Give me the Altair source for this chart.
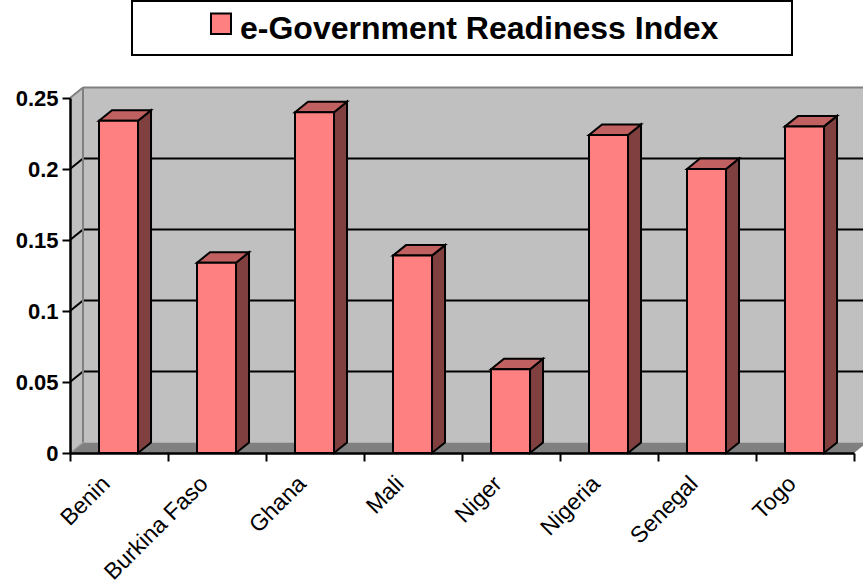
import altair as alt
import pandas as pd

# ---- data ----
countries = ["Benin", "Burkina Faso", "Ghana", "Mali", "Niger", "Nigeria", "Senegal", "Togo"]
values = [0.234, 0.134, 0.240, 0.139, 0.059, 0.224, 0.200, 0.230]
series_name = "e-Government Readiness Index"
y_ticks = [0, 0.05, 0.1, 0.15, 0.2, 0.25]

# ---- layout / 3D geometry ----
W, H = 784, 355
N = len(countries)
YMAX = 0.25
DX = 13 / (W / N)          # depth offset (x units)
DY = 10.5 / (H / YMAX)     # depth offset (y units)
BAR_L, BAR_R = 0.296, 0.694
FONT = "Liberation Sans"

front = pd.DataFrame({
    "country": countries,
    "value": values,
    "xl": [i + BAR_L for i in range(N)],
    "xr": [i + BAR_R for i in range(N)],
    "base": [0.0] * N,
    "series": [series_name] * N,
})

side_rows, top_rows = [], []
for i, (c, v) in enumerate(zip(countries, values)):
    xl, xr = i + BAR_L, i + BAR_R
    side_rows += [
        dict(country=c, x=xr, y=v, y2=0.0),
        dict(country=c, x=xr + DX, y=v + DY, y2=DY),
    ]
    top_rows += [
        dict(country=c, x=xl, y=v, y2=v),
        dict(country=c, x=xl + DX, y=v + DY, y2=v),
        dict(country=c, x=xr, y=v + DY, y2=v),
        dict(country=c, x=xr + DX, y=v + DY, y2=v + DY),
    ]
side = pd.DataFrame(side_rows)
top = pd.DataFrame(top_rows)

xscale = alt.Scale(domain=[0, N], nice=False, zero=False)
yscale = alt.Scale(domain=[0, YMAX], nice=False, zero=False)

labels_js = "[" + ",".join("'" + c + "'" for c in countries) + "]"
xaxis = alt.Axis(
    values=list(range(N + 1)), title=None, grid=False,
    labelExpr=labels_js + "[datum.value] || ''",
    labelAngle=315, labelAlign="right", labelBaseline="top",
    labelOffset=28, labelPadding=11, labelFont=FONT, labelFontSize=23,
    labelColor="black", labelOverlap=False, labelFlush=False, labelBound=False,
    tickSize=8, tickWidth=2, tickColor="black",
    domainColor="black", domainWidth=2.5, zindex=2,
)
yaxis = alt.Axis(
    values=y_ticks, title=None, grid=False, format="~g",
    labelFont=FONT, labelFontSize=22, labelFontWeight="bold", labelColor="black",
    labelPadding=4, tickSize=8, tickWidth=2, tickColor="black",
    domainColor="black", domainWidth=2.5, zindex=2,
)

def X(f):
    return alt.X(f, type="quantitative", scale=xscale, axis=xaxis)

def Y(f):
    return alt.Y(f, type="quantitative", scale=yscale, axis=yaxis, stack=None)

one = pd.DataFrame({"a": [0]})

# legend frame
legend_box = alt.Chart(one).mark_rect(fill="white", stroke="black", strokeWidth=2).encode(
    x=alt.value(62), x2=alt.value(722), y=alt.value(-97), y2=alt.value(-43)
)

# walls and floor
back_wall = alt.Chart(pd.DataFrame({"x": [DX], "x2": [N + DX], "y": [DY], "y2": [YMAX + DY]})).mark_rect(
    fill="#c0c0c0"
).encode(x=X("x"), x2="x2", y=Y("y"), y2="y2")

left_wall = alt.Chart(pd.DataFrame({"x": [0, DX], "y": [YMAX, YMAX + DY], "y2": [0, DY]})).mark_area(
    fill="#c0c0c0"
).encode(x=X("x"), y=Y("y"), y2="y2")

floor = alt.Chart(pd.DataFrame({
    "x": [0, DX, N, N + DX], "y": [0, DY, DY, DY], "y2": [0, 0, 0, DY]
})).mark_area(fill="#808080").encode(x=X("x"), y=Y("y"), y2="y2")

grid_vals = [v for v in y_ticks if 0 < v < YMAX]
back_grid = alt.Chart(pd.DataFrame({
    "x": [DX] * len(grid_vals), "x2": [N + DX] * len(grid_vals), "y": [v + DY for v in grid_vals]
})).mark_rule(color="black", strokeWidth=2).encode(x=X("x"), x2="x2", y=Y("y"))

wall_grid = alt.Chart(pd.DataFrame({
    "x": [0] * len(grid_vals), "x2": [DX] * len(grid_vals),
    "y": grid_vals, "y2": [v + DY for v in grid_vals]
})).mark_rule(color="black", strokeWidth=2).encode(x=X("x"), x2="x2", y=Y("y"), y2="y2")

edges = alt.Chart(pd.DataFrame({
    "x": [0, DX, DX], "x2": [DX, N + DX, DX],
    "y": [YMAX, YMAX + DY, DY], "y2": [YMAX + DY, YMAX + DY, YMAX + DY]
})).mark_rule(color="#808080", strokeWidth=2).encode(x=X("x"), x2="x2", y=Y("y"), y2="y2")

floor_edge = alt.Chart(pd.DataFrame({"x": [0], "x2": [DX], "y": [0], "y2": [DY]})).mark_rule(
    color="#a0a0a0", strokeWidth=1.5
).encode(x=X("x"), x2="x2", y=Y("y"), y2="y2")

# bars
side_faces = alt.Chart(side).mark_area(
    fill="#804040", stroke="black", strokeWidth=2, strokeJoin="miter"
).encode(x=X("x"), y=Y("y"), y2="y2", detail="country:N")

top_faces = alt.Chart(top).mark_area(
    fill="#c06060", stroke="black", strokeWidth=2, strokeJoin="miter"
).encode(x=X("x"), y=Y("y"), y2="y2", detail="country:N")

front_faces = alt.Chart(front).mark_rect(stroke="black", strokeWidth=2, strokeJoin="miter").encode(
    x=X("xl"), x2="xr", y=Y("value"), y2="base",
    color=alt.Color(
        "series:N",
        scale=alt.Scale(domain=[series_name], range=["#ff8080"]),
        legend=alt.Legend(
            orient="none", legendX=135, legendY=-85, title=None, padding=0,
            symbolType="M-1,-1.55H1V0.5H-1Z", symbolSize=400,
            symbolStrokeColor="black", symbolStrokeWidth=2, symbolFillColor="#ff8080",
            labelFont=FONT, labelFontSize=32, labelFontWeight="bold", labelColor="black",
            labelOffset=3, labelLimit=0,
        ),
    ),
)

chart = alt.layer(
    legend_box, back_wall, left_wall, floor, floor_edge, back_grid, wall_grid, edges,
    side_faces, top_faces, front_faces,
).properties(
    width=W, height=H,
    autosize=alt.AutoSizeParams(type="none"),
    padding={"left": 70, "top": 98, "right": 9, "bottom": 127},
    background="white",
).configure_view(stroke=None)

chart.save("out.html", embed_options={"renderer": "svg", "actions": False})
